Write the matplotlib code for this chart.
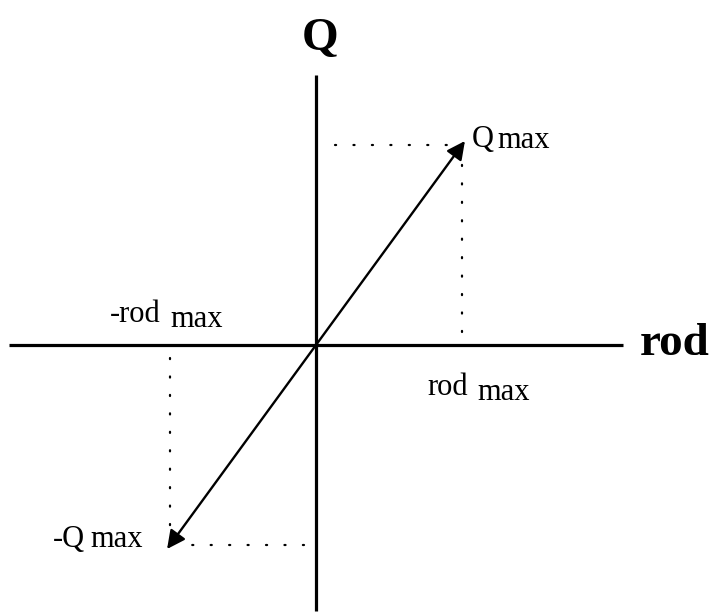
import matplotlib
matplotlib.use("Agg")
import matplotlib.pyplot as plt

# diagram values, in units of rod_max / Q_max
ROD_MAX = 1.0
Q_MAX = 1.0
ROD_AXIS = (-2.10, 2.10)      # extent of the rod axis line
Q_AXIS = (-1.33, 1.35)        # extent of the Q axis line
ARROW_TIP = 1.02              # arrow tips overshoot the corner slightly

AXIS_NAMES = ("rod", "Q")
LABELS = ["Q", "-rod", "rod", "-Q"]

FONT = "Liberation Serif"
SX, SY = 146.0, 200.0         # px per unit, for limits

fig = plt.figure(figsize=(7.12, 6.14), dpi=100)
ax = fig.add_axes([0, 0, 1, 1])
ax.set_xlim(-316 / SX, 396 / SX)
ax.set_ylim(-269 / SY, 345 / SY)
ax.axis("off")

# axes
ax.plot(ROD_AXIS, [0, 0], color="black", lw=2.3, solid_capstyle="butt")
ax.plot([0, 0], Q_AXIS, color="black", lw=2.3, solid_capstyle="butt")

# dotted guides
dots = dict(color="black", lw=1.6, dashes=(0.5, 7.8), dash_capstyle="round")
ax.plot([0.13, ROD_MAX], [Q_MAX, Q_MAX], **dots)
ax.plot([ROD_MAX, ROD_MAX], [0.065, 0.93], **dots)
ax.plot([-ROD_MAX, -ROD_MAX], [-0.065, -0.97], **dots)
ax.plot([-0.08, -0.9], [-Q_MAX, -Q_MAX], **dots)

# arrows from the origin
arr = dict(arrowstyle="-|>,head_length=1.1,head_width=0.55", color="black",
           lw=1.7, shrinkA=0, shrinkB=0)
ax.annotate("", xy=(ARROW_TIP * ROD_MAX, ARROW_TIP * Q_MAX), xytext=(0, 0), arrowprops=arr)
ax.annotate("", xy=(-ARROW_TIP * ROD_MAX, -ARROW_TIP * Q_MAX), xytext=(0, 0), arrowprops=arr)

# axis names
ax.text(0.027, 1.475, AXIS_NAMES[1], fontsize=34, fontweight="bold", family=FONT,
        ha="center", va="baseline")
ax.text(394 / SX, -0.05, AXIS_NAMES[0], fontsize=34, fontweight="bold",
        family=FONT, ha="right", va="baseline")

# max labels: main part then a slightly lowered "max"
def label(x, y, main, dx, dy):
    ax.text(x, y, main, fontsize=22, family=FONT, ha="left", va="baseline")
    ax.annotate("max", xy=(x, y), xytext=(dx, dy), textcoords="offset pixels",
                fontsize=22, family=FONT, ha="left", va="baseline")

label(1.068 * ROD_MAX, 0.99 * Q_MAX, LABELS[0], 25, -1)
label(-1.411 * ROD_MAX, 0.115 * Q_MAX, LABELS[1], 60, -5)
label(0.76 * ROD_MAX, -0.25 * Q_MAX, LABELS[2], 50, -5)
label(-1.80 * ROD_MAX, -1.01 * Q_MAX, LABELS[3], 37, 0)

fig.savefig("out.png", dpi=100)
